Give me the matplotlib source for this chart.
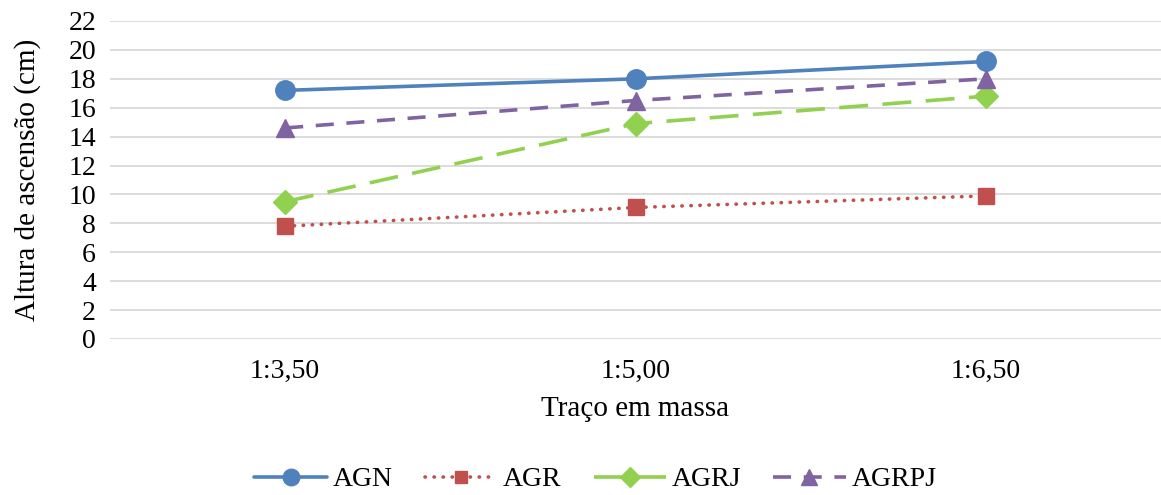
import matplotlib
matplotlib.use("Agg")
import matplotlib.pyplot as plt

categories = ["1:3,50", "1:5,00", "1:6,50"]
agn = [17.2, 18.0, 19.2]
agr = [7.8, 9.1, 9.9]
agrj = [9.5, 14.9, 16.8]
agrpj = [14.6, 16.5, 18.0]
yticks = list(range(0, 23, 2))

plt.rcParams["font.family"] = ["Liberation Serif", "DejaVu Serif"]

fig = plt.figure(figsize=(11.61, 4.95), dpi=100)
ax = fig.add_axes([110 / 1161, 1 - 339 / 495, 1051 / 1161, 318 / 495])

x = range(len(categories))
lw = 2.6
ax.plot(x, agn, color="#4F81BD", lw=lw, marker="o", ms=14, label="AGN",
        solid_capstyle="round", zorder=3)
ax.plot(x, agr, color="#C0504D", lw=lw, marker="s", ms=11, label="AGR",
        linestyle=(0, (0.1, 2.4)), dash_capstyle="round", zorder=3)
ax.plot(x, agrj, color="#92D050", lw=lw, marker="D", ms=12.5, label="AGRJ",
        linestyle=(0, (8, 4)), zorder=3)
ax.plot(x, agrpj, color="#8064A2", lw=lw, marker="^", ms=13.5, label="AGRPJ",
        linestyle=(0, (5, 3.5)), zorder=3)

ax.set_xlim(-0.5, 2.5)
ax.set_ylim(0, 22)
ax.set_yticks(yticks)
ax.set_xticks(list(x))
ax.set_xticklabels(categories)
ax.grid(axis="y", color="#D9D9D9", lw=1.3)
ax.set_axisbelow(True)
for s in ax.spines.values():
    s.set_visible(False)
ax.tick_params(axis="both", length=0, labelsize=20, colors="black")
ax.tick_params(axis="x", pad=14)
ax.tick_params(axis="y", pad=10)

ax.set_ylabel("Altura de ascensão (cm)", fontsize=21, labelpad=20)
ax.set_xlabel("Traço em massa", fontsize=21, labelpad=9)

ax.legend(loc="lower center", bbox_to_anchor=(0.462, -0.535), ncol=4,
          frameon=False, fontsize=20, handlelength=2.6, columnspacing=1.15,
          handletextpad=0.22, markerscale=0.85, borderaxespad=0.2)

fig.savefig("out.png", dpi=100)
